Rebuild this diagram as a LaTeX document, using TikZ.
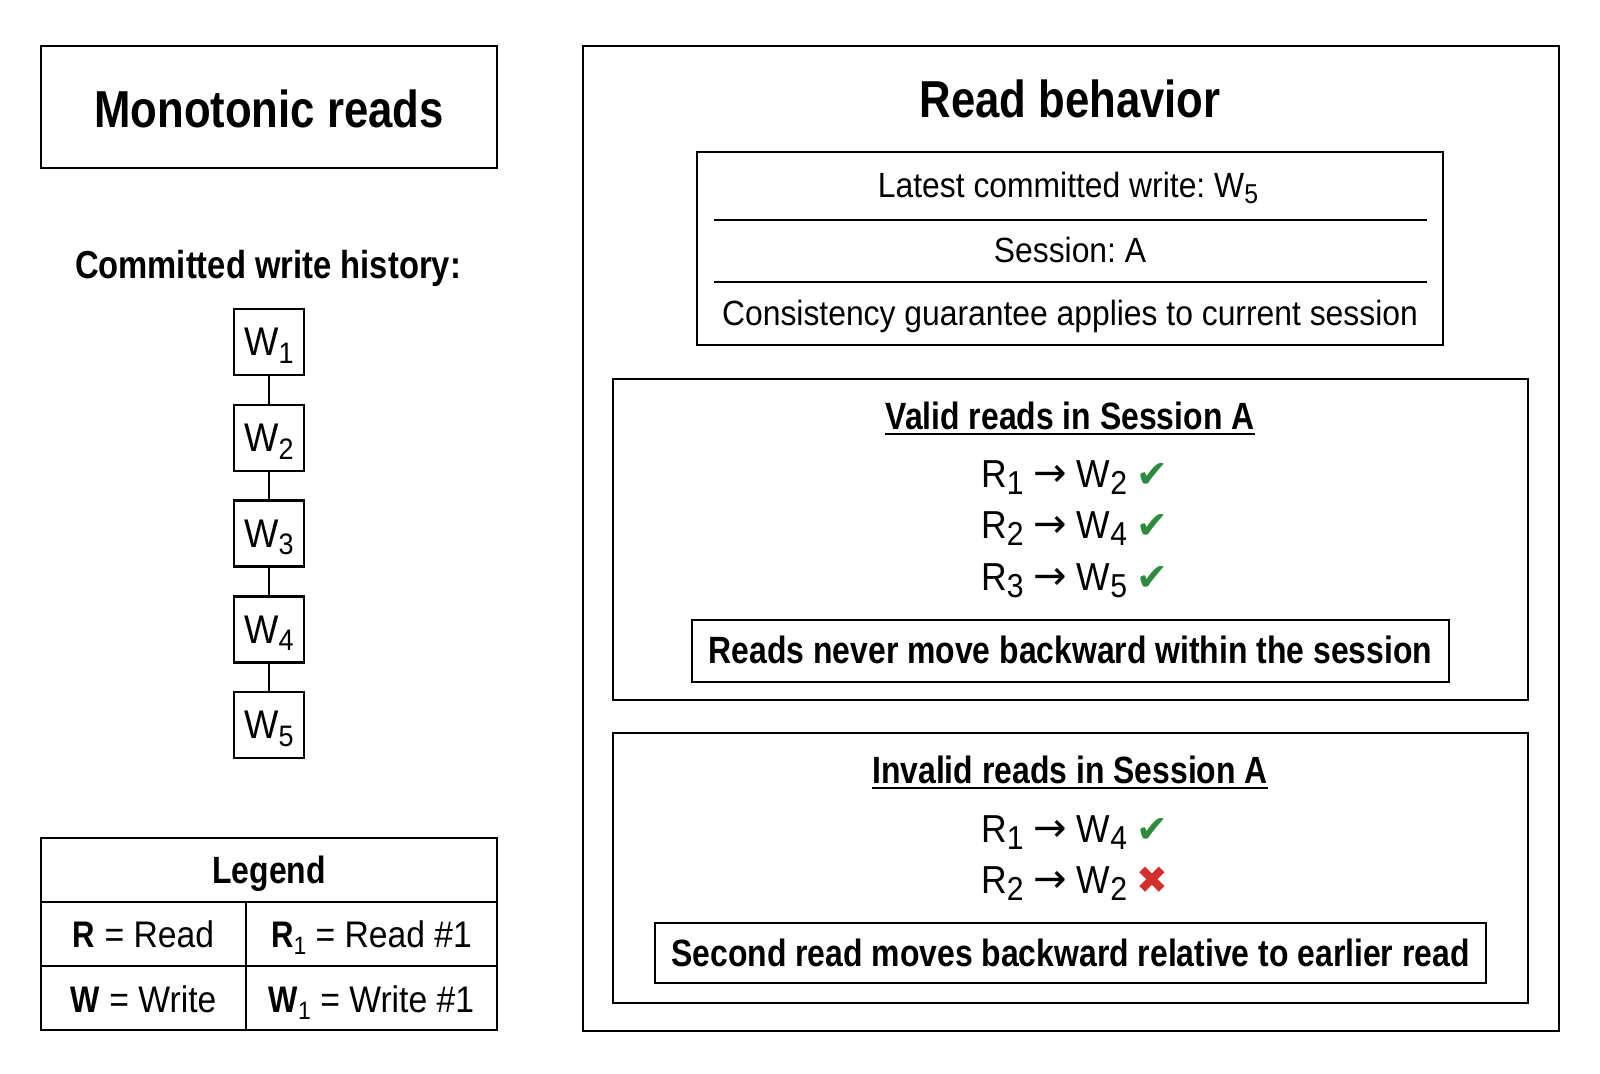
\documentclass[tikz,border=0pt]{standalone}
\usepackage{fontspec}
\setmainfont{Liberation Sans}[FakeStretch=0.91,BoldFeatures={FakeStretch=0.84}]
\newfontfamily\symf{DejaVu Sans}
\definecolor{okgreen}{HTML}{2E8B3E}
\definecolor{badred}{HTML}{D32F2F}
\makeatletter
\newcommand\sbs[2][0.7]{\raisebox{-0.19em}{\fontsize{\fpeval{#1*\f@size}}{1}\selectfont #2}}
\makeatother
\newcommand\fs[1]{\fontsize{#1}{#1}\selectfont}
\newcommand\okm{{\symf\color{okgreen}\fs{38}✔}}
\newcommand\badm{{\symf\color{badred}\fs{38}✖}}
\newcommand\arr{{\symf\fs{40}\raisebox{0.02em}{→}}}
\frenchspacing
\begin{document}
\begin{tikzpicture}[x=1pt,y=-1pt,
  box/.style={draw,line width=2.8pt,inner sep=0pt,outer sep=0pt},
  wbox/.style={box,minimum width=70pt,minimum height=66pt,font=\fs{40},text depth=0pt},
  txt/.style={inner sep=0pt,anchor=base},
  ttl/.style={txt,font=\bfseries\fs{52}},
  hd/.style={txt,font=\bfseries\fs{38}},
  reg/.style={txt,font=\fs{35}},
  rw/.style={txt,font=\fs{39}},
  lg/.style={txt,font=\fs{37}},
  conn/.style={line width=2.8pt},
  rule/.style={line width=2.8pt},
  uline/.style={line width=2.4pt}]
\useasboundingbox (0,0) rectangle (1600,1073);

% ---- left column ----
\node[box,minimum width=456pt,minimum height=122pt] (titlebox) at (269,107) {};
\node[ttl] (title) at (269,127) {Monotonic reads};

\node[txt,font=\bfseries\fs{39}] (hist) at (268,278) {Committed write history:};

\node[wbox] (w1) at (269,342) {W\sbs[0.74]{1}};
\node[wbox] (w2) at (269,438) {W\sbs[0.74]{2}};
\node[wbox] (w3) at (269,533.5) {W\sbs[0.74]{3}};
\node[wbox] (w4) at (269,629.5) {W\sbs[0.74]{4}};
\node[wbox] (w5) at (269,725) {W\sbs[0.74]{5}};
\draw[conn] (w1) -- (w2);
\draw[conn] (w2) -- (w3);
\draw[conn] (w3) -- (w4);
\draw[conn] (w4) -- (w5);

% legend
\node[box,minimum width=456pt,minimum height=192pt] (legend) at (269,934) {};
\coordinate (lgA) at (41,902);
\coordinate (lgB) at (497,902);
\coordinate (lgC) at (41,966);
\coordinate (lgD) at (497,966);
\coordinate (lgE) at (246,902);
\coordinate (lgF) at (246,1030);
\draw[rule] (lgA) -- (lgB);
\draw[rule] (lgC) -- (lgD);
\draw[rule] (lgE) -- (lgF);
\node[hd] (lgtitle) at (269,883) {Legend};
\node[lg] (lg1) at (143.5,947) {\textbf{R} = Read};
\node[lg] (lg2) at (371.5,947) {\textbf{R}\sbs[0.68]{1} = Read \#1};
\node[lg] (lg3) at (143.5,1012) {\textbf{W} = Write};
\node[lg] (lg4) at (371.5,1012) {\textbf{W}\sbs[0.68]{1} = Write \#1};

% ---- right column ----
\node[box,minimum width=976pt,minimum height=985pt] (outer) at (1071,538.5) {};
\node[ttl] (rbtitle) at (1070,117) {Read behavior};

\node[box,minimum width=746pt,minimum height=193pt] (info) at (1070,248.5) {};
\coordinate (i1a) at (714,220);
\coordinate (i1b) at (1427,220);
\coordinate (i2a) at (714,282);
\coordinate (i2b) at (1427,282);
\draw[rule] (i1a) -- (i1b);
\draw[rule] (i2a) -- (i2b);
\node[reg] (latest) at (1068,197) {Latest committed write: W\sbs[0.78]{5}};
\node[reg] (session) at (1070,262) {Session: A};
\node[reg] (consist) at (1070,325) {Consistency guarantee applies to current session};

% valid reads
\node[box,minimum width=915pt,minimum height=321pt] (valid) at (1070.5,539.5) {};
\node[hd] (vtitle) at (1070,429) {Valid reads in Session A};
\draw[uline] ([yshift=-5pt]vtitle.base west) -- ([yshift=-5pt]vtitle.base east);
\node[rw] (v1) at (1075,487) {R\sbs[0.85]{1} \arr{} W\sbs[0.85]{2} \okm};
\node[rw] (v2) at (1075,538) {R\sbs[0.85]{2} \arr{} W\sbs[0.85]{4} \okm};
\node[rw] (v3) at (1075,590) {R\sbs[0.85]{3} \arr{} W\sbs[0.85]{5} \okm};
\node[box,minimum width=757pt,minimum height=62pt] (vnote) at (1070.5,651) {};
\node[hd] (vnotetxt) at (1070.5,663) {Reads never move backward within the session};

% invalid reads
\node[box,minimum width=915pt,minimum height=270pt] (invalid) at (1070.5,868) {};
\node[hd] (ititle) at (1070,783) {Invalid reads in Session A};
\draw[uline] ([yshift=-5pt]ititle.base west) -- ([yshift=-5pt]ititle.base east);
\node[rw] (i1) at (1075,842) {R\sbs[0.85]{1} \arr{} W\sbs[0.85]{4} \okm};
\node[rw] (i2) at (1075,893) {R\sbs[0.85]{2} \arr{} W\sbs[0.85]{2} \badm};
\node[box,minimum width=831pt,minimum height=60pt] (inote) at (1070.5,953) {};
\node[hd] (inotetxt) at (1070.5,966) {Second read moves backward relative to earlier read};
\end{tikzpicture}
\end{document}
